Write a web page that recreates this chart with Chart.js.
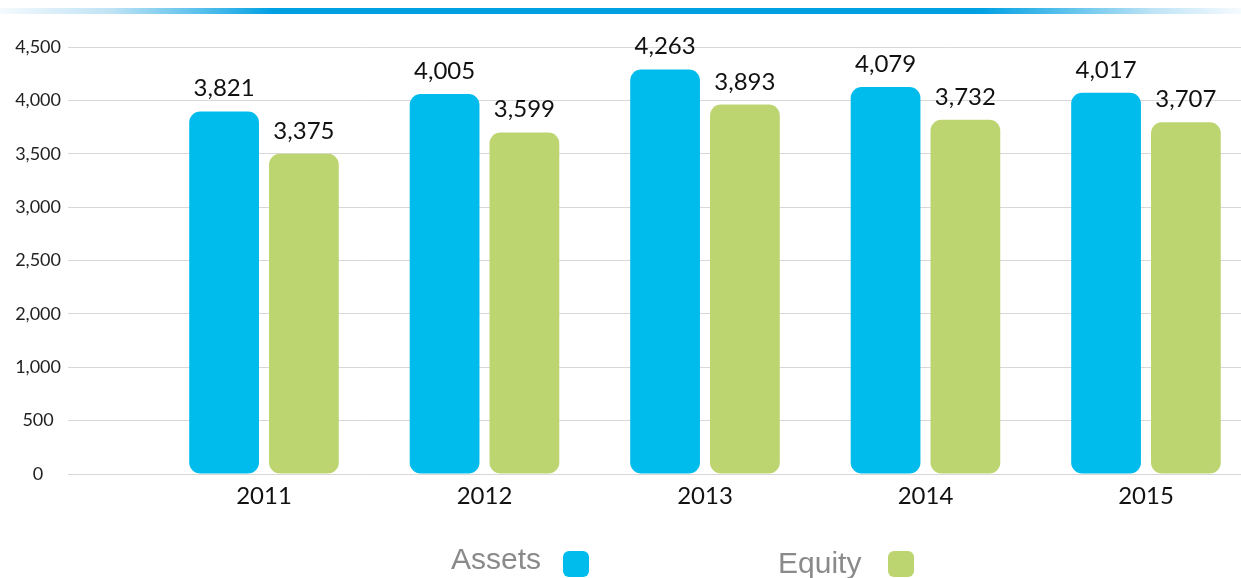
<!DOCTYPE html>
<html>
<head>
<meta charset="utf-8">
<script src="https://cdn.jsdelivr.net/npm/chart.js@4/dist/chart.umd.min.js"></script>
<style>
  html, body { margin: 0; padding: 0; background: #fff; }
  #wrap { position: relative; width: 1241px; height: 578px; overflow: hidden; }
  #topline { position: absolute; left: 0; top: 8px; width: 1241px; height: 6px;
    background: linear-gradient(to right, #f4fafd 0%, #bfe3f5 9%, #4cbbea 17%, #00a0e3 22%, #00a0e3 79%, #5ec2ec 86%, #bfe4f6 93%, #f6fbfe 100%); }
  #c { position: absolute; left: 0; top: 0; }
  .lg-text { position: absolute; font-family: "Liberation Sans", Arial, sans-serif; font-size: 30px; line-height: 30px; color: #8a8a8a; white-space: nowrap; }
  .lg-box { position: absolute; width: 26px; height: 26px; border-radius: 6px; }
</style>
</head>
<body>
<div id="wrap">
  <div id="topline"></div>
  <canvas id="c" width="1241" height="578"></canvas>
  <span class="lg-text" id="lg0" style="left:451px; top:544px;"></span>
  <div class="lg-box" id="lb0" style="left:563px; top:551px;"></div>
  <span class="lg-text" id="lg1" style="left:778px; top:548px;"></span>
  <div class="lg-box" id="lb1" style="left:888px; top:551px;"></div>
</div>
<script>
const years = [2011, 2012, 2013, 2014, 2015];
const assets = [3821, 4005, 4263, 4079, 4017];
const equity = [3375, 3599, 3893, 3732, 3707];
const seriesNames = ['Assets', 'Equity'];
const seriesColors = ['#00bcec', '#bdd570'];
const yTickLabels = ['0', '500', '1,000', '2,000', '2,500', '3,000', '3,500', '4,000', '4,500'];
const yMax = 4500;

document.getElementById('lg0').textContent = seriesNames[0];
document.getElementById('lg1').textContent = seriesNames[1];
document.getElementById('lb0').style.background = seriesColors[0];
document.getElementById('lb1').style.background = seriesColors[1];

const valueLabels = {
  id: 'valueLabels',
  afterDatasetsDraw(chart) {
    const ctx = chart.ctx;
    ctx.save();
    ctx.font = '24px Lato, sans-serif';
    ctx.fillStyle = '#111';
    ctx.textAlign = 'center';
    ctx.textBaseline = 'alphabetic';
    chart.data.datasets.forEach((ds, di) => {
      chart.getDatasetMeta(di).data.forEach((bar, i) => {
        const v = ds.data[i].y;
        ctx.fillText(v.toLocaleString('en-US'), bar.x, bar.y - 15);
      });
    });
    ctx.restore();
  }
};

new Chart(document.getElementById('c'), {
  type: 'bar',
  data: {
    datasets: [
      { label: seriesNames[0], data: years.map((y, i) => ({ x: y, y: assets[i] })), backgroundColor: seriesColors[0] },
      { label: seriesNames[1], data: years.map((y, i) => ({ x: y, y: equity[i] })), backgroundColor: seriesColors[1] }
    ]
  },
  options: {
    responsive: false,
    animation: false,
    devicePixelRatio: 1,
    layout: { padding: { left: 0, right: 0, top: 47, bottom: 54 } },
    datasets: {
      bar: {
        categoryPercentage: 0.724,
        barPercentage: 0.874,
        borderRadius: 11,
        borderSkipped: false
      }
    },
    plugins: {
      legend: { display: false },
      tooltip: { enabled: false }
    },
    scales: {
      x: {
        type: 'linear',
        offset: false,
        min: 2010.111,
        max: 2015.431,
        afterFit(scale) { scale.height = 50; },
        afterBuildTicks(scale) { scale.ticks = years.map(v => ({ value: v })); },
        grid: { display: false, drawTicks: false, offset: false },
        border: { display: false },
        ticks: {
          padding: 8,
          font: { family: 'Lato', size: 24 },
          color: '#111',
          callback: (v) => String(v)
        }
      },
      y: {
        min: 0,
        max: yMax,
        afterFit(scale) { scale.width = 68; },
        afterBuildTicks(scale) {
          const n = yTickLabels.length - 1;
          scale.ticks = yTickLabels.map((t, i) => ({ value: yMax * i / n }));
        },
        grid: { color: '#d8d8d8', lineWidth: 1, drawTicks: false },
        border: { display: false },
        ticks: {
          crossAlign: 'center',
          padding: 7,
          font: { family: 'Lato', size: 18 },
          color: '#222',
          callback: (v, i) => yTickLabels[i]
        }
      }
    }
  },
  plugins: [valueLabels]
});
</script>
</body>
</html>
